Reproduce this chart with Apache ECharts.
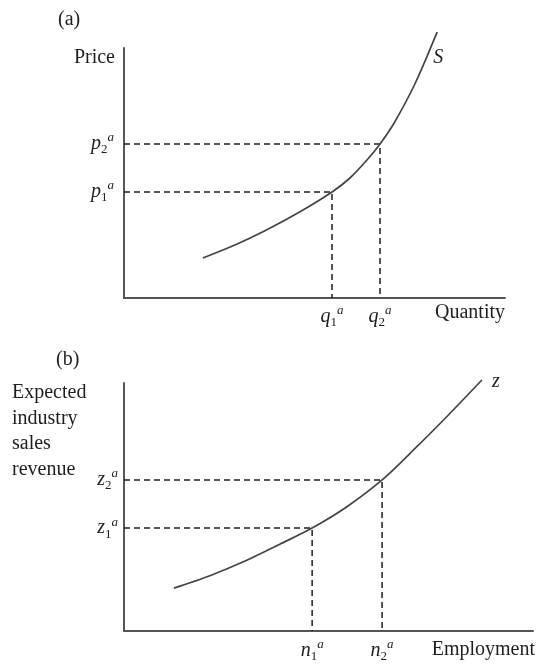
<!DOCTYPE html>
<html>
<head>
<meta charset="utf-8">
<script src="https://cdn.jsdelivr.net/npm/echarts@6/dist/echarts.min.js"></script>
<style>
  html, body { margin: 0; padding: 0; background: #fff; }
  #chart { width: 536px; height: 664px; }
</style>
</head>
<body>
<div id="chart"></div>
<script>
// Panel (a): supply curve S, price against quantity
const supplyQuantity = [20.7, 29.1, 37.0, 46.2, 54.6, 59.3, 64.0, 67.2, 70.9, 76.4, 82.2];
const supplyPrice    = [16.0, 21.2, 26.9, 34.5, 42.4, 48.0, 55.6, 61.6, 70.0, 85.8, 106.4];
const quantityMarks  = [54.6, 67.2];   // q1a, q2a
const priceMarks     = [42.4, 61.6];   // p1a, p2a

// Panel (b): expected industry sales revenue z against employment
const employment      = [12.2, 21.0, 29.6, 38.1, 46.0, 54.5, 63.1, 71.1, 79.2, 87.5];
const revenue         = [17.3, 22.3, 28.2, 35.0, 41.5, 50.1, 60.9, 73.5, 86.9, 101.2];
const employmentMarks = [46.0, 63.1];  // n1a, n2a
const revenueMarks    = [41.5, 60.9];  // z1a, z2a

const markIndex = ['1', '2'];

const FONT = '"Liberation Serif", "Times New Roman", serif';
const INK = '#1e1e1e';
const AXIS = '#555';
const CURVE = '#444';

// italic letter with a roman subscript and an italic superscript "a"
const rich = {
  m: { fontFamily: FONT, fontStyle: 'italic', fontSize: 20, lineHeight: 25, color: INK },
  s: { fontFamily: FONT, fontSize: 13, lineHeight: 13, verticalAlign: 'bottom', color: INK },
  u: { fontFamily: FONT, fontStyle: 'italic', fontSize: 13, lineHeight: 13, verticalAlign: 'top', color: INK }
};
function symbolText(letter, i) {
  return '{m|' + letter + '}{s|' + markIndex[i] + '}{u|a}';
}

// dashed guide from the vertical axis to the curve and down to the horizontal axis
function guide(g, x, y, letterX, letterY, i, leftDist, bottomDist) {
  return {
    type: 'line', xAxisIndex: g, yAxisIndex: g,
    data: [
      { value: [0, y], label: { show: true, position: 'left', distance: leftDist, formatter: symbolText(letterY, i), rich: rich } },
      { value: [x, y] },
      { value: [x, 0], label: { show: true, position: 'bottom', distance: bottomDist, formatter: symbolText(letterX, i), rich: rich } }
    ],
    symbol: 'circle', symbolSize: 0,
    itemStyle: { color: 'transparent' },
    lineStyle: { color: INK, width: 1.5, type: [6, 4] },
    silent: true, z: 3
  };
}

function curve(g, xs, ys, name, labelOffset) {
  const last = xs.length - 1;
  return {
    type: 'line', xAxisIndex: g, yAxisIndex: g,
    data: xs.map((x, k) => k === last
      ? { value: [x, ys[k]], label: { show: true, position: 'right', distance: 0, offset: labelOffset,
          formatter: name, fontFamily: FONT, fontStyle: 'italic', fontSize: 20, color: INK } }
      : { value: [x, ys[k]] }),
    smooth: 0.3,
    symbol: 'circle', symbolSize: 0,
    itemStyle: { color: 'transparent' },
    lineStyle: { color: CURVE, width: 1.7 },
    clip: false, silent: true, z: 4
  };
}

const nameStyle = { fontFamily: FONT, fontSize: 20, color: INK };
function axisBase(g) {
  return {
    gridIndex: g, type: 'value', min: 0, max: 100,
    axisLine: { show: true, onZero: false, lineStyle: { color: AXIS, width: 2 } },
    axisTick: { show: false }, axisLabel: { show: false }, splitLine: { show: false }
  };
}

const titleText = { fontFamily: FONT, fontSize: 20, fontWeight: 'normal', color: INK };

const chart = echarts.init(document.getElementById('chart'), null, { renderer: 'canvas' });
chart.setOption({
  animation: false,
  backgroundColor: '#fff',
  title: [
    { text: '(a)', left: 58, top: 10, padding: 0, textStyle: titleText },
    { text: '(b)', left: 56, top: 350, padding: 0, textStyle: titleText },
    { text: 'Expected\nindustry\nsales\nrevenue', left: 12, top: 380, padding: 0,
      textStyle: Object.assign({}, titleText, { lineHeight: 25.5 }) }
  ],
  grid: [
    { left: 124, top: 48, width: 381, height: 250 },
    { left: 124, top: 383, width: 409, height: 248 }
  ],
  xAxis: [
    Object.assign(axisBase(0), { name: 'Quantity', nameLocation: 'end', nameGap: 0,
      nameTextStyle: Object.assign({}, nameStyle, { align: 'right', verticalAlign: 'top', padding: [5, 0, 0, 0] }) }),
    Object.assign(axisBase(1), { name: 'Employment', nameLocation: 'end', nameGap: 2,
      nameTextStyle: Object.assign({}, nameStyle, { align: 'right', verticalAlign: 'top', padding: [9, 0, 0, 0] }) })
  ],
  yAxis: [
    Object.assign(axisBase(0), { name: 'Price', nameLocation: 'end', nameGap: 0,
      nameTextStyle: Object.assign({}, nameStyle, { align: 'right', verticalAlign: 'top', padding: [0, 9, 0, 0] }) }),
    axisBase(1)
  ],
  series: [
    curve(0, supplyQuantity, supplyPrice, 'S', [-4, 26]),
    guide(0, quantityMarks[0], priceMarks[0], 'q', 'p', 0, 10, 6),
    guide(0, quantityMarks[1], priceMarks[1], 'q', 'p', 1, 10, 6),
    curve(1, employment, revenue, 'z', [10, 2]),
    guide(1, employmentMarks[0], revenueMarks[0], 'n', 'z', 0, 6, 7),
    guide(1, employmentMarks[1], revenueMarks[1], 'n', 'z', 1, 6, 7)
  ]
});
</script>
</body>
</html>
